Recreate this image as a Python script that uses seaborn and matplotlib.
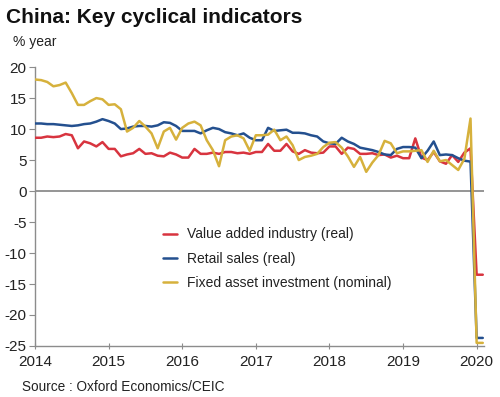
import numpy as np
import pandas as pd
import matplotlib
matplotlib.use("Agg")
import matplotlib.pyplot as plt
import seaborn as sns

# Monthly data, Jan 2014 - Feb 2020 (% year)
start_year = 2014
industry = [8.6, 8.6, 8.8, 8.7, 8.8, 9.2, 9.0, 6.9, 8.0, 7.7, 7.2, 7.9,
            6.8, 6.8, 5.6, 5.9, 6.1, 6.8, 6.0, 6.1, 5.7, 5.6, 6.2, 5.9,
            5.4, 5.4, 6.8, 6.0, 6.0, 6.2, 6.0, 6.3, 6.3, 6.1, 6.2, 6.0,
            6.3, 6.3, 7.6, 6.5, 6.5, 7.6, 6.4, 6.0, 6.6, 6.2, 6.1, 6.2,
            7.2, 7.2, 6.0, 7.0, 6.8, 6.0, 6.0, 6.1, 5.8, 5.9, 5.4, 5.7,
            5.3, 5.3, 8.5, 5.4, 5.0, 6.3, 4.8, 4.4, 5.8, 4.7, 6.2, 6.9,
            -13.5, -13.5]
retail = [10.9, 10.9, 10.8, 10.8, 10.7, 10.6, 10.5, 10.6, 10.8, 10.9, 11.2, 11.6,
          11.3, 10.9, 10.0, 10.1, 10.4, 10.5, 10.5, 10.4, 10.6, 11.1, 11.0, 10.5,
          9.7, 9.7, 9.7, 9.3, 9.8, 10.2, 10.0, 9.5, 9.3, 9.0, 9.3, 8.6,
          8.2, 8.2, 10.2, 9.7, 9.8, 9.9, 9.4, 9.4, 9.3, 9.0, 8.8, 8.0,
          7.7, 7.6, 8.6, 8.0, 7.6, 7.0, 6.8, 6.6, 6.3, 5.9, 5.8, 6.8,
          7.1, 7.1, 7.0, 5.3, 6.5, 8.0, 5.8, 5.9, 5.8, 5.3, 4.9, 4.75,
          -23.7, -23.7]
fai = [18.0, 17.9, 17.6, 16.9, 17.1, 17.5, 15.8, 13.9, 13.9, 14.5, 15.0, 14.8,
       13.9, 14.0, 13.2, 9.6, 10.2, 11.3, 10.4, 9.3, 6.9, 9.6, 10.2, 8.3,
       10.2, 10.9, 11.2, 10.6, 8.2, 6.6, 4.0, 8.2, 8.8, 9.0, 8.5, 6.5,
       9.0, 9.0, 9.1, 9.9, 8.2, 8.8, 7.4, 5.0, 5.5, 5.7, 6.0, 7.1,
       7.8, 7.9, 7.0, 5.6, 3.9, 5.5, 3.1, 4.6, 5.8, 8.1, 7.7, 6.1,
       6.4, 6.4, 6.5, 6.6, 4.7, 6.5, 4.8, 5.0, 4.2, 3.4, 5.2, 11.7,
       -24.5, -24.5]

labels = ["Value added industry (real)", "Retail sales (real)",
          "Fixed asset investment (nominal)"]
colors = ["#d8343f", "#24508f", "#d6b13c"]
year_ticks = list(range(2014, 2021))
y_ticks = list(range(-25, 21, 5))

months = np.arange(len(industry))
dates = start_year + months / 12
df = pd.concat([
    pd.DataFrame({"date": dates, "value": vals, "series": name})
    for name, vals in zip(labels, [industry, retail, fai])
])

sns.set_theme(style="white")
plt.rcParams["font.family"] = ["Liberation Sans", "DejaVu Sans"]
plt.rcParams["axes.unicode_minus"] = False

fig = plt.figure(figsize=(5, 3.97), dpi=100)
ax = fig.add_axes([0.07, 0.1285, 0.898, 0.7025])

ax.axhline(0, color="#8c8c8c", lw=1.3, zorder=1)
sns.lineplot(data=df, x="date", y="value", hue="series", hue_order=labels,
             palette=colors, lw=1.8, ax=ax, legend=False, zorder=3)

ax.set_xlim(2014, 2020.1)
ax.set_ylim(-25, 20)
ax.set_xticks(year_ticks)
ax.set_yticks(y_ticks)
ax.set_xlabel("")
ax.set_ylabel("")
ax.tick_params(axis="y", labelsize=11, length=4, width=0.8, color="#8c8c8c",
               direction="out", pad=2, left=True, labelcolor="#222222")
ax.tick_params(axis="x", labelsize=11, length=5, width=0.8, color="#8c8c8c",
               direction="inout", pad=4, bottom=True, labelcolor="#222222")
for side in ["top", "right"]:
    ax.spines[side].set_visible(False)
for side in ["left", "bottom"]:
    ax.spines[side].set_color("#8c8c8c")
    ax.spines[side].set_linewidth(1.0)

handles = [plt.Line2D([], [], color=c, lw=1.8) for c in colors]
ax.legend(handles, labels, loc="upper left", bbox_to_anchor=(0.258, 0.47),
          frameon=False, fontsize=10, handlelength=1.0, handletextpad=0.7,
          labelspacing=0.75, labelcolor="#222222")

fig.text(0.012, 0.955, "China: Key cyclical indicators", fontsize=15,
         fontweight="bold", va="center", ha="left", color="#111111")
fig.text(0.026, 0.893, "% year", fontsize=10, va="center", ha="left",
         color="#222222")
fig.text(0.044, 0.025, "Source : Oxford Economics/CEIC", fontsize=9.8,
         va="center", ha="left", color="#222222")

fig.savefig("out.png", dpi=100)
